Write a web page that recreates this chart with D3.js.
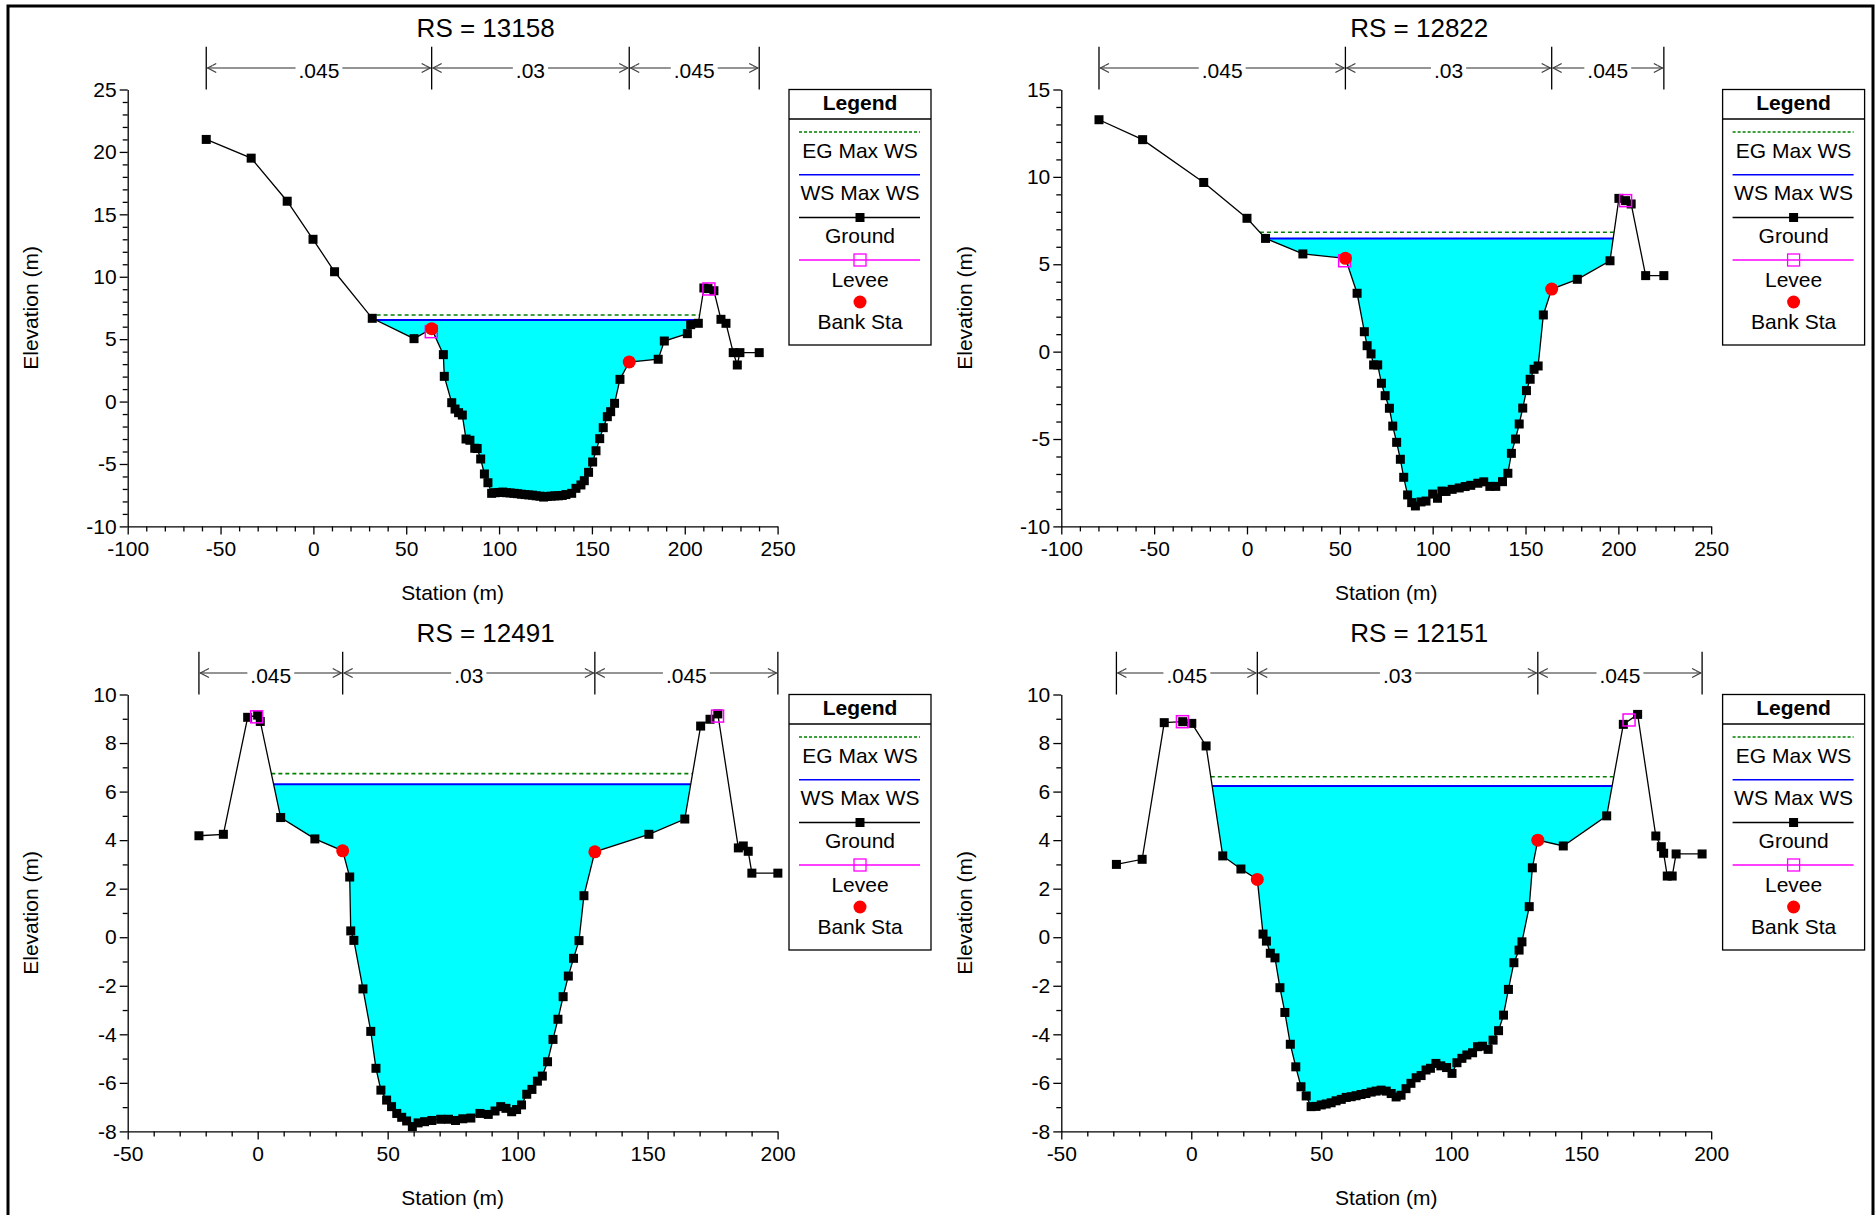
<!DOCTYPE html>
<html><head><meta charset="utf-8">
<script src="https://cdn.jsdelivr.net/npm/d3@7"></script>
<style>
body{margin:0;background:#fff}
svg{display:block}
text{font-family:"Liberation Sans",Arial,Helvetica,sans-serif;fill:#000}
</style>
</head><body>
<svg id="c" width="1876" height="1215"></svg>
<script>
// ---------------- DATA ----------------
const titles = ["RS = 13158", "RS = 12822", "RS = 12491", "RS = 12151"];
const legendLabels = ["EG Max WS", "WS Max WS", "Ground", "Levee", "Bank Sta"];
const nValues = [".045", ".03", ".045"];

// RS 13158
const rs13158Station = [-57.7,-33.5,-14.1,-0.2,11.4,31.7,54.2,63.7,70.0,70.5,74.5,76.3,78.2,80.2,82.2,84.3,86.9,88.2,90.1,92.1,94.0,96.0,98,100,102,104,106,108,110,112,114,116,118,120,122,124,126,128,130,132,134,136,139.1,141.4,144.1,145.9,148.2,150.4,152.2,154.2,156.1,158.3,160.1,162.2,165.1,170.1,185.7,189.0,201.4,203.2,207.3,210.3,212.5,215.7,219.5,222.2,226.1,228.3,229.7,240.1];
const rs13158Elev = [21.0,19.5,16.05,13.0,10.4,6.67,5.04,5.84,3.76,2.02,-0.09,-0.6,-0.89,-1.08,-3.0,-3.1,-3.74,-3.76,-4.6,-5.8,-6.5,-7.35,-7.3,-7.28,-7.25,-7.3,-7.32,-7.35,-7.38,-7.42,-7.45,-7.48,-7.5,-7.55,-7.58,-7.65,-7.6,-7.58,-7.55,-7.55,-7.52,-7.45,-7.35,-6.95,-6.68,-6.34,-5.67,-4.84,-3.94,-2.97,-2.09,-1.21,-0.81,-0.14,1.78,3.17,3.39,4.85,5.44,6.16,6.27,9.1,9.05,8.88,6.59,6.27,3.92,2.93,3.92,3.92];
const rs13158WS = 6.53, rs13158EG = 6.93;
const rs13158Banks = [[63.7,5.84],[170.1,3.17]];
const rs13158Levees = [[63.5,5.6],[213.0,9.02]];

// RS 12822
const rs12822Station = [-79.7,-56.2,-23.3,0.0,10.0,30.1,53.0,59.3,63.2,64.7,66.8,68.2,70.4,72.4,74.4,76.7,78.5,80.6,82.6,84.4,86.5,88.7,90.7,93.7,96.4,100.0,102.6,105.0,107.2,110.5,114.3,117.5,120.5,124.3,127.5,130.8,134.0,137.6,140.5,142.4,144.6,146.6,148.5,150.5,152.5,154.6,156.8,159.6,164.1,177.9,195.5,200.3,203.9,206.9,214.7,224.5];
const rs12822Elev = [13.27,12.13,9.68,7.63,6.48,5.59,5.34,3.34,1.14,0.34,-0.13,-0.76,-0.76,-1.81,-2.52,-3.24,-4.26,-5.19,-6.16,-7.19,-8.2,-8.64,-8.83,-8.6,-8.55,-8.15,-8.39,-7.98,-8.0,-7.88,-7.8,-7.72,-7.65,-7.53,-7.45,-7.71,-7.71,-7.44,-6.96,-5.82,-5.0,-4.14,-3.23,-2.23,-1.58,-1.01,-0.82,2.1,3.58,4.14,5.2,8.77,8.64,8.45,4.35,4.35];
const rs12822WS = 6.48, rs12822EG = 6.83;
const rs12822Banks = [[53.0,5.34],[164.1,3.58]];
const rs12822Levees = [[52.6,5.2],[203.9,8.64]];

// RS 12491
const rs12491Station = [-22.6,-13.2,-3.85,0.0,1.0,8.85,22.0,32.7,35.4,35.8,37.0,40.5,43.5,45.5,47.4,49.6,51.5,53.5,55.4,57.3,59.5,61.7,64.2,67.0,70.4,73.4,76.1,78.9,82.0,85.5,88.7,91.3,93.5,95.5,97.7,99.6,101.5,103.5,105.5,107.6,109.5,111.5,113.6,115.5,117.5,119.5,121.5,123.6,125.5,129.7,150.5,164.3,170.4,174.0,177.0,184.9,186.8,188.7,190.1,200.1];
const rs12491Elev = [4.18,4.24,9.06,9.15,8.89,4.93,4.05,3.56,2.48,0.26,-0.13,-2.13,-3.88,-5.4,-6.3,-6.71,-6.98,-7.26,-7.42,-7.57,-7.8,-7.65,-7.6,-7.55,-7.5,-7.5,-7.55,-7.48,-7.45,-7.26,-7.3,-7.16,-6.98,-7.05,-7.19,-7.1,-6.91,-6.47,-6.27,-5.93,-5.72,-5.13,-4.21,-3.38,-2.45,-1.6,-0.87,-0.14,1.71,3.52,4.24,4.87,8.7,8.98,9.2,3.68,3.76,3.54,2.64,2.64];
const rs12491WS = 6.30, rs12491EG = 6.74;
const rs12491Banks = [[32.7,3.56],[129.7,3.52]];
const rs12491Levees = [[-0.4,9.08],[176.9,9.11]];

// RS 12151
const rs12151Station = [-28.8,-18.9,-10.4,-3.3,0.2,5.7,12.1,19.1,25.4,27.6,28.9,30.4,32.2,34.1,36.0,38.1,40.2,42.2,44.2,46.1,48.0,50.0,51.9,53.8,55.7,57.7,59.6,61.5,63.4,65.3,67.2,69.2,71.1,73.0,75.0,76.9,78.8,80.7,82.6,84.5,86.5,88.4,90.3,92.0,94.1,96.0,98.2,100.3,102.2,104.1,106.0,108.2,110.1,112.0,114.2,116.1,118.2,120.1,122.0,124.1,126.1,127.2,130.0,131.2,133.3,143.1,159.8,166.2,171.7,178.7,180.8,181.7,183.1,185.0,186.5,196.5];
const rs12151Elev = [3.0,3.21,8.84,8.88,8.81,7.88,3.35,2.81,2.38,0.13,-0.16,-0.66,-0.85,-2.08,-3.1,-4.41,-5.34,-6.16,-6.54,-6.98,-6.97,-6.91,-6.87,-6.82,-6.74,-6.68,-6.6,-6.57,-6.53,-6.48,-6.44,-6.38,-6.34,-6.3,-6.34,-6.44,-6.58,-6.51,-6.24,-6.02,-5.79,-5.7,-5.47,-5.4,-5.2,-5.3,-5.37,-5.61,-5.17,-4.99,-4.85,-4.76,-4.51,-4.49,-4.62,-4.24,-3.85,-3.21,-2.15,-1.05,-0.53,-0.19,1.26,2.86,4.0,3.76,5.0,8.77,9.18,4.17,3.73,3.46,2.52,2.52,3.43,3.43];
const rs12151WS = 6.23, rs12151EG = 6.61;
const rs12151Banks = [[25.4,2.38],[133.3,4.0]];
const rs12151Levees = [[-3.4,8.88],[168.4,8.95]];

const xDomains = [[-100,250],[-100,250],[-50,200],[-50,200]];
const yDomains = [[-10,25],[-10,15],[-8,10],[-8,10]];
const yMajorStep = [5,5,2,2];

// ---------------- DRAW ----------------
const svg = d3.select("#c");
svg.append("rect").attr("x",8).attr("y",6).attr("width",1865).attr("height",1400)
  .attr("fill","none").attr("stroke","#000").attr("stroke-width",3);

const panels = [
  {st:rs13158Station, el:rs13158Elev, ws:rs13158WS, eg:rs13158EG, banks:rs13158Banks, levees:rs13158Levees, ox:0, oy:0},
  {st:rs12822Station, el:rs12822Elev, ws:rs12822WS, eg:rs12822EG, banks:rs12822Banks, levees:rs12822Levees, ox:933.6, oy:0},
  {st:rs12491Station, el:rs12491Elev, ws:rs12491WS, eg:rs12491EG, banks:rs12491Banks, levees:rs12491Levees, ox:0, oy:605},
  {st:rs12151Station, el:rs12151Elev, ws:rs12151WS, eg:rs12151EG, banks:rs12151Banks, levees:rs12151Levees, ox:933.6, oy:605}
];

function waterExtent(st, el, level){
  let imin = d3.minIndex(el);
  let i = imin;
  while(i > 0 && el[i-1] <= level) i--;
  let li = i;
  let lx = st[li];
  if(li > 0){ const a=li-1; lx = st[a] + (el[a]-level)/(el[a]-el[li])*(st[li]-st[a]); }
  let j = imin;
  while(j < el.length-1 && el[j+1] <= level) j++;
  let rj = j;
  let rx = st[rj];
  if(rj < el.length-1){ const b=rj+1; rx = st[rj] + (level-el[rj])/(el[b]-el[rj])*(st[b]-st[rj]); }
  return {li, rj, lx, rx};
}

const fmt = d => String(d);

panels.forEach((p, k) => {
  const L = p.ox + 127.7, R = p.ox + 777.6, T = p.oy + 89.5, B = p.oy + 526.4;
  const x = d3.scaleLinear().domain(xDomains[k]).range([L, R]);
  const y = d3.scaleLinear().domain(yDomains[k]).range([B, T]);
  const g = svg.append("g");
  const cx = (L + R) / 2;

  g.append("text").attr("x", cx + 33).attr("y", p.oy + 37.3).attr("text-anchor","middle")
    .style("font-size","26px").text(titles[k]);

  const [x0, x1] = xDomains[k];
  const xMajor = d3.range(x0, x1 + 0.001, 50);
  const xMinor = d3.range(x0, x1 + 0.001, 10).filter(v => (v - x0) % 50 !== 0);
  const [y0, y1] = yDomains[k];
  const yMajor = d3.range(y0, y1 + 0.001, yMajorStep[k]);
  const yMinor = d3.range(y0, y1 + 0.001, 1).filter(v => (v - y0) % yMajorStep[k] !== 0);

  const gx = g.append("g").attr("transform", `translate(0,${B})`);
  gx.call(d3.axisBottom(x).tickValues(xMajor).tickFormat(fmt).tickSize(8).tickSizeOuter(0).tickPadding(7));
  gx.append("g").call(d3.axisBottom(x).tickValues(xMinor).tickSize(5).tickFormat(""))
    .select(".domain").remove();
  const gy = g.append("g").attr("transform", `translate(${L},0)`);
  gy.call(d3.axisLeft(y).tickValues(yMajor).tickFormat(fmt).tickSize(8).tickSizeOuter(0).tickPadding(3));
  gy.append("g").call(d3.axisLeft(y).tickValues(yMinor).tickSize(5).tickFormat(""))
    .select(".domain").remove();
  g.selectAll(".tick text").style("font-size","21px").style("font-family","'Liberation Sans',Arial,sans-serif");
  g.selectAll(".domain, .tick line").attr("stroke","#000").attr("stroke-width",1.3);

  g.append("text").attr("x", cx).attr("y", p.oy + 599.7).attr("text-anchor","middle")
    .style("font-size","21px").text("Station (m)");
  g.append("text").attr("transform", `translate(${p.ox+31},${(T+B)/2}) rotate(-90)`)
    .attr("text-anchor","middle").attr("dy","0.35em").style("font-size","21px").text("Elevation (m)");

  // Manning's n bars
  const bounds = [p.st[0], p.banks[0][0], p.banks[1][0], p.st[p.st.length-1]];
  const ay = p.oy + 68;
  bounds.forEach(b => {
    g.append("line").attr("x1", x(b)).attr("x2", x(b)).attr("y1", p.oy + 46.7).attr("y2", T)
      .attr("stroke","#000").attr("stroke-width",1.3);
  });
  nValues.forEach((nv, i) => {
    const a = x(bounds[i]), b = x(bounds[i+1]), m = (a + b) / 2;
    const t = g.append("text").attr("x", m).attr("y", ay + 9.5).attr("text-anchor","middle")
      .style("font-size","21px").text(nv);
    const w = t.node().getComputedTextLength();
    const gc = "#707070";
    g.append("line").attr("x1", a + 1).attr("x2", m - w/2 - 3).attr("y1", ay).attr("y2", ay)
      .attr("stroke", gc).attr("stroke-width",1.5);
    g.append("line").attr("x1", m + w/2 + 3).attr("x2", b - 1).attr("y1", ay).attr("y2", ay)
      .attr("stroke", gc).attr("stroke-width",1.5);
    [[a, 1], [b, -1]].forEach(([px, d]) => {
      g.append("path").attr("d", `M${px + d*10},${ay-4.5} L${px + d*1.5},${ay} L${px + d*10},${ay+4.5}`)
        .attr("fill","none").attr("stroke", "#404040").attr("stroke-width",1.3);
      g.append("path").attr("d", `M${px + d*7},${ay-3} L${px + d*3.5},${ay}`)
        .attr("fill","none").attr("stroke", "#808080").attr("stroke-width",1);
    });
  });

  // water fill
  const we = waterExtent(p.st, p.el, p.ws);
  const poly = [[we.lx, p.ws]];
  for (let i = we.li; i <= we.rj; i++) poly.push([p.st[i], p.el[i]]);
  poly.push([we.rx, p.ws]);
  g.append("path").attr("d", d3.line().x(d => x(d[0])).y(d => y(d[1]))(poly) + "Z")
    .attr("fill","#00FFFF").attr("stroke","none");

  const ee = waterExtent(p.st, p.el, p.eg);
  g.append("line").attr("x1", x(ee.lx)).attr("x2", x(ee.rx)).attr("y1", y(p.eg)).attr("y2", y(p.eg))
    .attr("stroke","#008000").attr("stroke-width",1.6).attr("stroke-dasharray","4,3");
  g.append("line").attr("x1", x(we.lx)).attr("x2", x(we.rx)).attr("y1", y(p.ws)).attr("y2", y(p.ws))
    .attr("stroke","#0000FF").attr("stroke-width",2);

  // ground
  const pts = p.st.map((s, i) => [s, p.el[i]]);
  g.append("path").attr("d", d3.line().x(d => x(d[0])).y(d => y(d[1]))(pts))
    .attr("fill","none").attr("stroke","#000").attr("stroke-width",1.3);
  g.selectAll(null).data(pts).enter().append("rect")
    .attr("x", d => x(d[0]) - 4.5).attr("y", d => y(d[1]) - 4.5).attr("width", 9).attr("height", 9)
    .attr("fill","#000");

  g.selectAll(null).data(p.levees).enter().append("rect")
    .attr("x", d => x(d[0]) - 6).attr("y", d => y(d[1]) - 6).attr("width", 12).attr("height", 12)
    .attr("fill","none").attr("stroke","#FF00FF").attr("stroke-width",1.5);
  g.selectAll(null).data(p.banks).enter().append("circle")
    .attr("cx", d => x(d[0])).attr("cy", d => y(d[1])).attr("r", 6.5).attr("fill","#FF0000");

  // legend
  const lx0 = p.ox + 789, lx1 = p.ox + 931, lc = (lx0 + lx1) / 2, ly = p.oy;
  g.append("rect").attr("x", lx0).attr("y", ly + 89.5).attr("width", lx1 - lx0).attr("height", 255.5)
    .attr("fill","#fff").attr("stroke","#000").attr("stroke-width",1.3);
  g.append("text").attr("x", lc).attr("y", ly + 109.5).attr("text-anchor","middle")
    .style("font-size","21px").style("font-weight","bold").text("Legend");
  g.append("line").attr("x1", lx0).attr("x2", lx1).attr("y1", ly + 119).attr("y2", ly + 119)
    .attr("stroke","#000").attr("stroke-width",1.3);
  const la = p.ox + 799, lb = p.ox + 920;
  g.append("line").attr("x1", la).attr("x2", lb).attr("y1", ly + 132).attr("y2", ly + 132)
    .attr("stroke","#008000").attr("stroke-width",1.6).attr("stroke-dasharray","3,2");
  g.append("line").attr("x1", la).attr("x2", lb).attr("y1", ly + 174.7).attr("y2", ly + 174.7)
    .attr("stroke","#0000FF").attr("stroke-width",1.6);
  g.append("line").attr("x1", la).attr("x2", lb).attr("y1", ly + 217.5).attr("y2", ly + 217.5)
    .attr("stroke","#000").attr("stroke-width",1.3);
  g.append("rect").attr("x", lc - 4.5).attr("y", ly + 213).attr("width", 9).attr("height", 9).attr("fill","#000");
  g.append("line").attr("x1", la).attr("x2", lb).attr("y1", ly + 260).attr("y2", ly + 260)
    .attr("stroke","#FF00FF").attr("stroke-width",1.5);
  g.append("rect").attr("x", lc - 6).attr("y", ly + 254).attr("width", 12).attr("height", 12)
    .attr("fill","none").attr("stroke","#FF00FF").attr("stroke-width",1.3);
  g.append("circle").attr("cx", lc).attr("cy", ly + 302).attr("r", 6.5).attr("fill","#FF0000");
  const textY = [150.6, 192.6, 235.8, 279, 321];
  legendLabels.forEach((t, i) => {
    g.append("text").attr("x", lc).attr("y", ly + textY[i] + 7.5).attr("text-anchor","middle")
      .style("font-size","21px").text(t);
  });
});
</script>
</body></html>
